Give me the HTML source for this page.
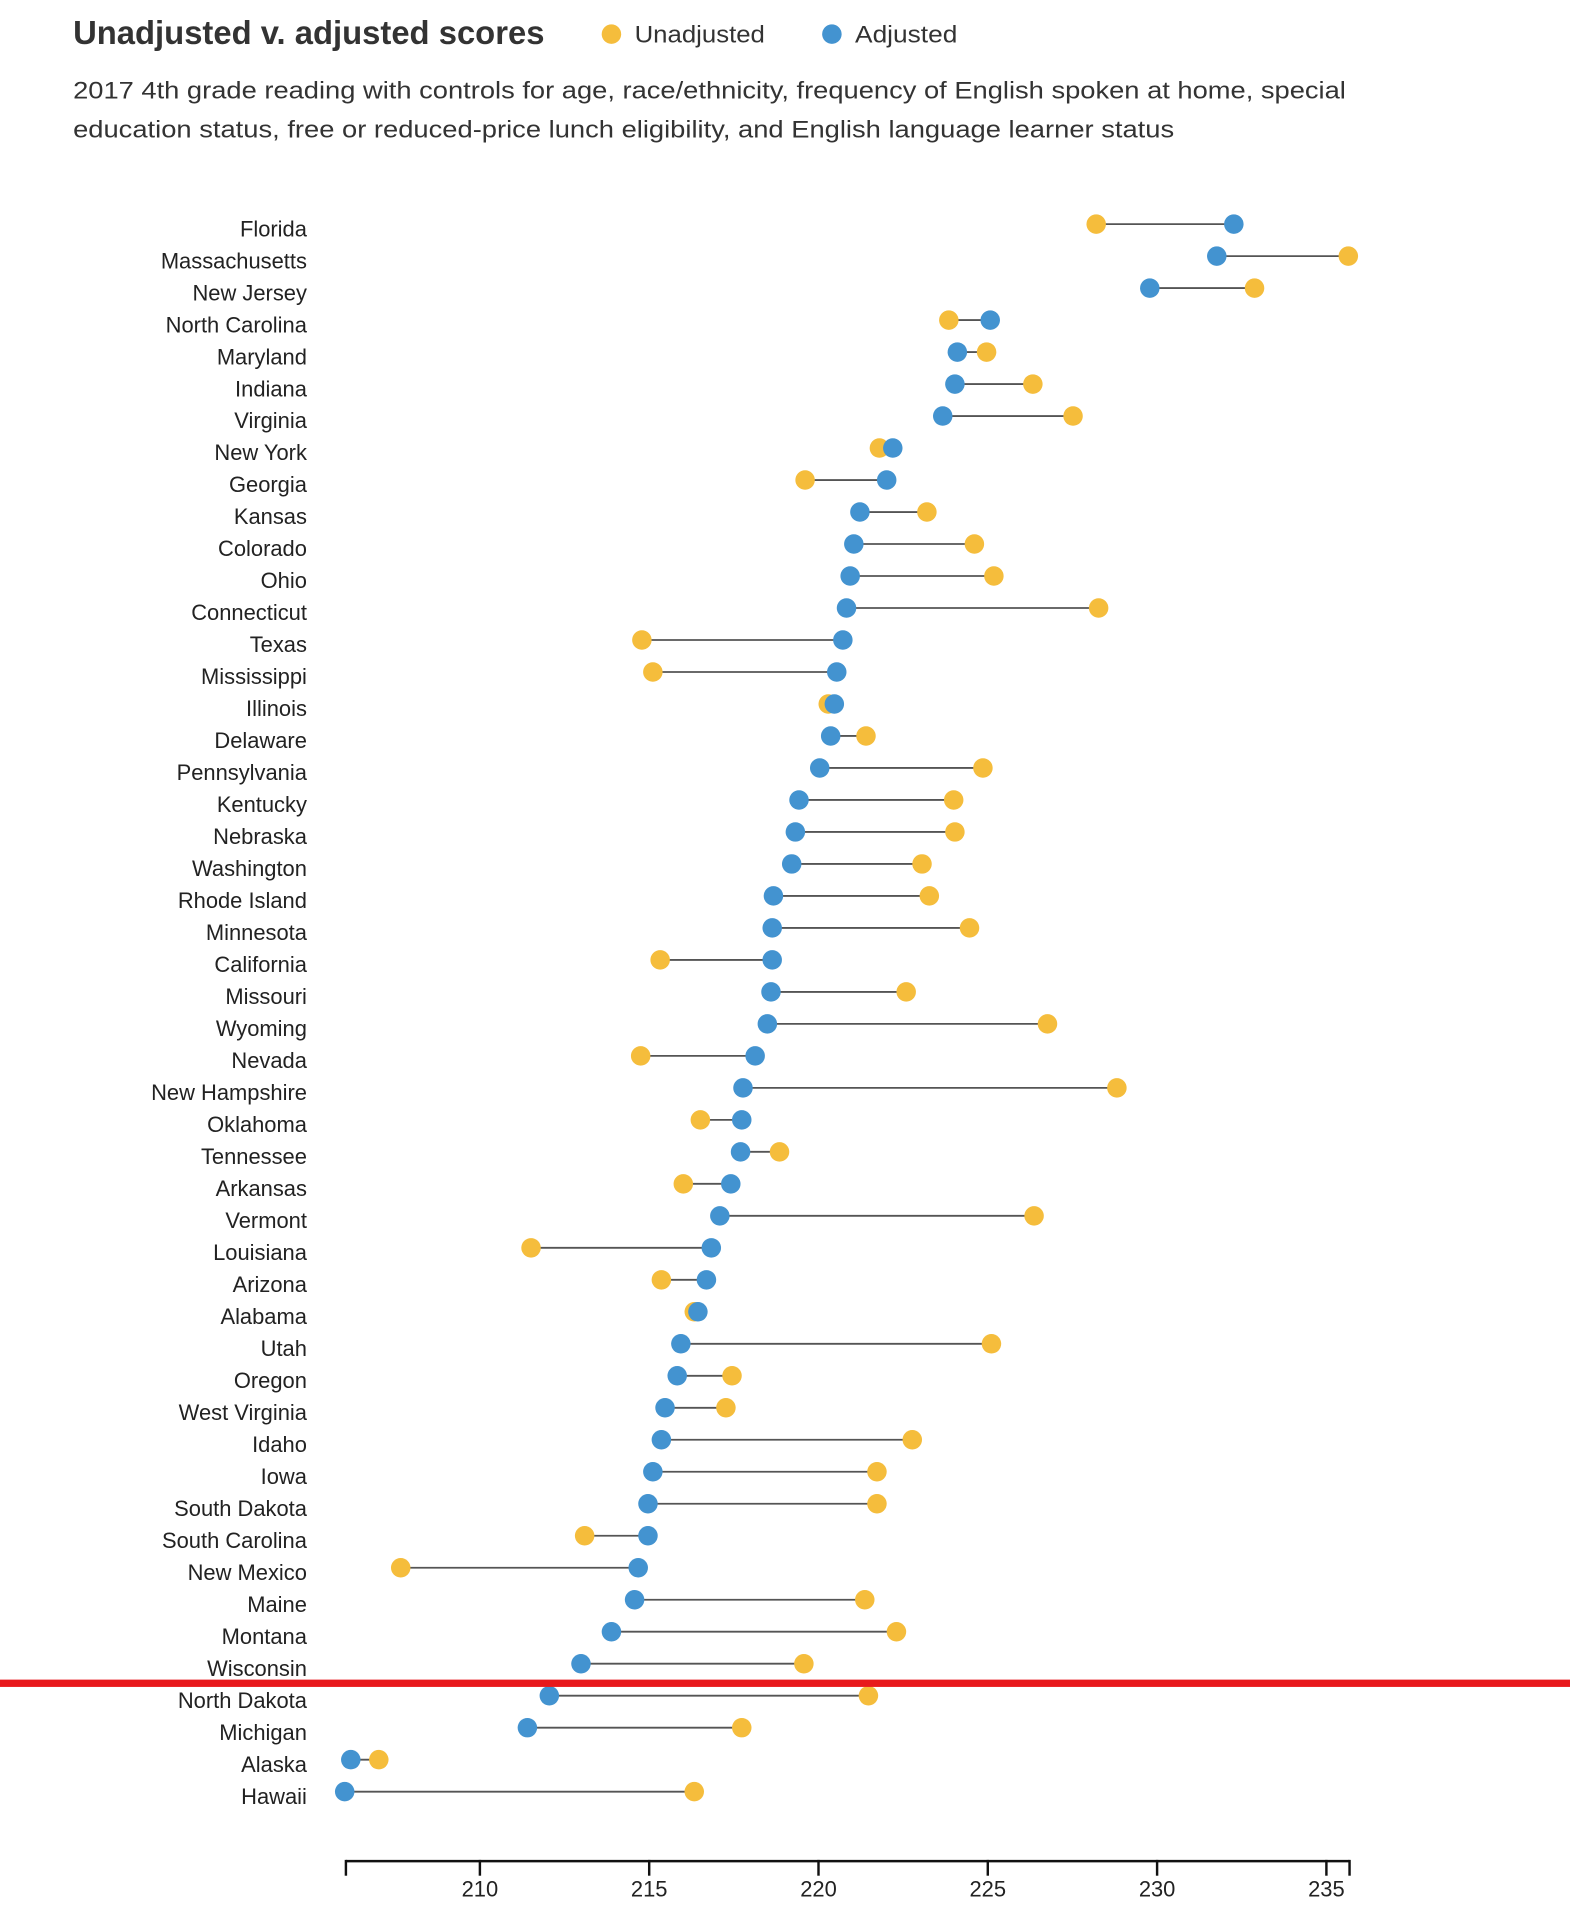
<!DOCTYPE html>
<html><head><meta charset="utf-8"><style>html,body{margin:0;padding:0;background:#fff}svg{display:block}</style></head>
<body>
<svg width="1570" height="1910" viewBox="0 0 1289 1568.15" xmlns="http://www.w3.org/2000/svg" font-family="Liberation Sans, sans-serif">
<text x="60" y="36" font-size="27" font-weight="bold" fill="#333" textLength="387" lengthAdjust="spacingAndGlyphs">Unadjusted v. adjusted scores</text>
<circle cx="502" cy="28" r="8" fill="#f5bd3c"/><text x="521" y="35" font-size="20" fill="#333" textLength="107" lengthAdjust="spacingAndGlyphs">Unadjusted</text>
<circle cx="683" cy="28" r="8" fill="#4393d0"/><text x="702" y="35" font-size="20" fill="#333" textLength="84" lengthAdjust="spacingAndGlyphs">Adjusted</text>
<text x="60" y="81" font-size="20" fill="#333" textLength="1045" lengthAdjust="spacingAndGlyphs">2017 4th grade reading with controls for age, race/ethnicity, frequency of English spoken at home, special</text>
<text x="60" y="113" font-size="20" fill="#333" textLength="904" lengthAdjust="spacingAndGlyphs">education status, free or reduced-price lunch eligibility, and English language learner status</text>
<defs><style>.l{font-size:18px;fill:#222;text-anchor:end}.s{stroke:#555;stroke-width:1.5}.y{fill:#f5bd3c}.b{fill:#4393d0}</style></defs>
<g transform="translate(0,184)"><text class="l" x="252" y="10">Florida</text><line class="s" x1="900" x2="1013"/><circle class="y" cx="900" r="8"/><circle class="b" cx="1013" r="8"/></g>
<g transform="translate(0,210.27)"><text class="l" x="252" y="10">Massachusetts</text><line class="s" x1="1107" x2="999"/><circle class="y" cx="1107" r="8"/><circle class="b" cx="999" r="8"/></g>
<g transform="translate(0,236.53)"><text class="l" x="252" y="10">New Jersey</text><line class="s" x1="1030" x2="944"/><circle class="y" cx="1030" r="8"/><circle class="b" cx="944" r="8"/></g>
<g transform="translate(0,262.8)"><text class="l" x="252" y="10">North Carolina</text><line class="s" x1="779" x2="813"/><circle class="y" cx="779" r="8"/><circle class="b" cx="813" r="8"/></g>
<g transform="translate(0,289.06)"><text class="l" x="252" y="10">Maryland</text><line class="s" x1="810" x2="786"/><circle class="y" cx="810" r="8"/><circle class="b" cx="786" r="8"/></g>
<g transform="translate(0,315.33)"><text class="l" x="252" y="10">Indiana</text><line class="s" x1="848" x2="784"/><circle class="y" cx="848" r="8"/><circle class="b" cx="784" r="8"/></g>
<g transform="translate(0,341.59)"><text class="l" x="252" y="10">Virginia</text><line class="s" x1="881" x2="774"/><circle class="y" cx="881" r="8"/><circle class="b" cx="774" r="8"/></g>
<g transform="translate(0,367.86)"><text class="l" x="252" y="10">New York</text><line class="s" x1="722" x2="733"/><circle class="y" cx="722" r="8"/><circle class="b" cx="733" r="8"/></g>
<g transform="translate(0,394.12)"><text class="l" x="252" y="10">Georgia</text><line class="s" x1="661" x2="728"/><circle class="y" cx="661" r="8"/><circle class="b" cx="728" r="8"/></g>
<g transform="translate(0,420.39)"><text class="l" x="252" y="10">Kansas</text><line class="s" x1="761" x2="706"/><circle class="y" cx="761" r="8"/><circle class="b" cx="706" r="8"/></g>
<g transform="translate(0,446.65)"><text class="l" x="252" y="10">Colorado</text><line class="s" x1="800" x2="701"/><circle class="y" cx="800" r="8"/><circle class="b" cx="701" r="8"/></g>
<g transform="translate(0,472.92)"><text class="l" x="252" y="10">Ohio</text><line class="s" x1="816" x2="698"/><circle class="y" cx="816" r="8"/><circle class="b" cx="698" r="8"/></g>
<g transform="translate(0,499.18)"><text class="l" x="252" y="10">Connecticut</text><line class="s" x1="902" x2="695"/><circle class="y" cx="902" r="8"/><circle class="b" cx="695" r="8"/></g>
<g transform="translate(0,525.45)"><text class="l" x="252" y="10">Texas</text><line class="s" x1="527" x2="692"/><circle class="y" cx="527" r="8"/><circle class="b" cx="692" r="8"/></g>
<g transform="translate(0,551.71)"><text class="l" x="252" y="10">Mississippi</text><line class="s" x1="536" x2="687"/><circle class="y" cx="536" r="8"/><circle class="b" cx="687" r="8"/></g>
<g transform="translate(0,577.98)"><text class="l" x="252" y="10">Illinois</text><line class="s" x1="680" x2="685"/><circle class="y" cx="680" r="8"/><circle class="b" cx="685" r="8"/></g>
<g transform="translate(0,604.24)"><text class="l" x="252" y="10">Delaware</text><line class="s" x1="711" x2="682"/><circle class="y" cx="711" r="8"/><circle class="b" cx="682" r="8"/></g>
<g transform="translate(0,630.51)"><text class="l" x="252" y="10">Pennsylvania</text><line class="s" x1="807" x2="673"/><circle class="y" cx="807" r="8"/><circle class="b" cx="673" r="8"/></g>
<g transform="translate(0,656.78)"><text class="l" x="252" y="10">Kentucky</text><line class="s" x1="783" x2="656"/><circle class="y" cx="783" r="8"/><circle class="b" cx="656" r="8"/></g>
<g transform="translate(0,683.04)"><text class="l" x="252" y="10">Nebraska</text><line class="s" x1="784" x2="653"/><circle class="y" cx="784" r="8"/><circle class="b" cx="653" r="8"/></g>
<g transform="translate(0,709.31)"><text class="l" x="252" y="10">Washington</text><line class="s" x1="757" x2="650"/><circle class="y" cx="757" r="8"/><circle class="b" cx="650" r="8"/></g>
<g transform="translate(0,735.57)"><text class="l" x="252" y="10">Rhode Island</text><line class="s" x1="763" x2="635"/><circle class="y" cx="763" r="8"/><circle class="b" cx="635" r="8"/></g>
<g transform="translate(0,761.84)"><text class="l" x="252" y="10">Minnesota</text><line class="s" x1="796" x2="634"/><circle class="y" cx="796" r="8"/><circle class="b" cx="634" r="8"/></g>
<g transform="translate(0,788.1)"><text class="l" x="252" y="10">California</text><line class="s" x1="542" x2="634"/><circle class="y" cx="542" r="8"/><circle class="b" cx="634" r="8"/></g>
<g transform="translate(0,814.37)"><text class="l" x="252" y="10">Missouri</text><line class="s" x1="744" x2="633"/><circle class="y" cx="744" r="8"/><circle class="b" cx="633" r="8"/></g>
<g transform="translate(0,840.63)"><text class="l" x="252" y="10">Wyoming</text><line class="s" x1="860" x2="630"/><circle class="y" cx="860" r="8"/><circle class="b" cx="630" r="8"/></g>
<g transform="translate(0,866.9)"><text class="l" x="252" y="10">Nevada</text><line class="s" x1="526" x2="620"/><circle class="y" cx="526" r="8"/><circle class="b" cx="620" r="8"/></g>
<g transform="translate(0,893.16)"><text class="l" x="252" y="10">New Hampshire</text><line class="s" x1="917" x2="610"/><circle class="y" cx="917" r="8"/><circle class="b" cx="610" r="8"/></g>
<g transform="translate(0,919.43)"><text class="l" x="252" y="10">Oklahoma</text><line class="s" x1="575" x2="609"/><circle class="y" cx="575" r="8"/><circle class="b" cx="609" r="8"/></g>
<g transform="translate(0,945.69)"><text class="l" x="252" y="10">Tennessee</text><line class="s" x1="640" x2="608"/><circle class="y" cx="640" r="8"/><circle class="b" cx="608" r="8"/></g>
<g transform="translate(0,971.96)"><text class="l" x="252" y="10">Arkansas</text><line class="s" x1="561" x2="600"/><circle class="y" cx="561" r="8"/><circle class="b" cx="600" r="8"/></g>
<g transform="translate(0,998.22)"><text class="l" x="252" y="10">Vermont</text><line class="s" x1="849" x2="591"/><circle class="y" cx="849" r="8"/><circle class="b" cx="591" r="8"/></g>
<g transform="translate(0,1024.49)"><text class="l" x="252" y="10">Louisiana</text><line class="s" x1="436" x2="584"/><circle class="y" cx="436" r="8"/><circle class="b" cx="584" r="8"/></g>
<g transform="translate(0,1050.76)"><text class="l" x="252" y="10">Arizona</text><line class="s" x1="543" x2="580"/><circle class="y" cx="543" r="8"/><circle class="b" cx="580" r="8"/></g>
<g transform="translate(0,1077.02)"><text class="l" x="252" y="10">Alabama</text><line class="s" x1="570" x2="573"/><circle class="y" cx="570" r="8"/><circle class="b" cx="573" r="8"/></g>
<g transform="translate(0,1103.29)"><text class="l" x="252" y="10">Utah</text><line class="s" x1="814" x2="559"/><circle class="y" cx="814" r="8"/><circle class="b" cx="559" r="8"/></g>
<g transform="translate(0,1129.55)"><text class="l" x="252" y="10">Oregon</text><line class="s" x1="601" x2="556"/><circle class="y" cx="601" r="8"/><circle class="b" cx="556" r="8"/></g>
<g transform="translate(0,1155.82)"><text class="l" x="252" y="10">West Virginia</text><line class="s" x1="596" x2="546"/><circle class="y" cx="596" r="8"/><circle class="b" cx="546" r="8"/></g>
<g transform="translate(0,1182.08)"><text class="l" x="252" y="10">Idaho</text><line class="s" x1="749" x2="543"/><circle class="y" cx="749" r="8"/><circle class="b" cx="543" r="8"/></g>
<g transform="translate(0,1208.35)"><text class="l" x="252" y="10">Iowa</text><line class="s" x1="720" x2="536"/><circle class="y" cx="720" r="8"/><circle class="b" cx="536" r="8"/></g>
<g transform="translate(0,1234.61)"><text class="l" x="252" y="10">South Dakota</text><line class="s" x1="720" x2="532"/><circle class="y" cx="720" r="8"/><circle class="b" cx="532" r="8"/></g>
<g transform="translate(0,1260.88)"><text class="l" x="252" y="10">South Carolina</text><line class="s" x1="480" x2="532"/><circle class="y" cx="480" r="8"/><circle class="b" cx="532" r="8"/></g>
<g transform="translate(0,1287.14)"><text class="l" x="252" y="10">New Mexico</text><line class="s" x1="329" x2="524"/><circle class="y" cx="329" r="8"/><circle class="b" cx="524" r="8"/></g>
<g transform="translate(0,1313.41)"><text class="l" x="252" y="10">Maine</text><line class="s" x1="710" x2="521"/><circle class="y" cx="710" r="8"/><circle class="b" cx="521" r="8"/></g>
<g transform="translate(0,1339.67)"><text class="l" x="252" y="10">Montana</text><line class="s" x1="736" x2="502"/><circle class="y" cx="736" r="8"/><circle class="b" cx="502" r="8"/></g>
<g transform="translate(0,1365.94)"><text class="l" x="252" y="10">Wisconsin</text><line class="s" x1="660" x2="477"/><circle class="y" cx="660" r="8"/><circle class="b" cx="477" r="8"/></g>
<g transform="translate(0,1392.2)"><text class="l" x="252" y="10">North Dakota</text><line class="s" x1="713" x2="451"/><circle class="y" cx="713" r="8"/><circle class="b" cx="451" r="8"/></g>
<g transform="translate(0,1418.47)"><text class="l" x="252" y="10">Michigan</text><line class="s" x1="609" x2="433"/><circle class="y" cx="609" r="8"/><circle class="b" cx="433" r="8"/></g>
<g transform="translate(0,1444.73)"><text class="l" x="252" y="10">Alaska</text><line class="s" x1="311" x2="288"/><circle class="y" cx="311" r="8"/><circle class="b" cx="288" r="8"/></g>
<g transform="translate(0,1471)"><text class="l" x="252" y="10">Hawaii</text><line class="s" x1="570" x2="283"/><circle class="y" cx="570" r="8"/><circle class="b" cx="283" r="8"/></g>
<rect x="0" y="1379" width="1289" height="6" fill="#e8191c"/>
<g stroke="#111" stroke-width="2" fill="none">
<line x1="284" y1="1528" x2="1108" y2="1528"/>
<line x1="284" y1="1527" x2="284" y2="1540"/><line x1="1108" y1="1527" x2="1108" y2="1540"/>
<line x1="394" y1="1527" x2="394" y2="1540"/><line x1="533" y1="1527" x2="533" y2="1540"/><line x1="672" y1="1527" x2="672" y2="1540"/><line x1="811" y1="1527" x2="811" y2="1540"/><line x1="950" y1="1527" x2="950" y2="1540"/><line x1="1089" y1="1527" x2="1089" y2="1540"/>
</g>
<g font-size="18" fill="#222" text-anchor="middle">
<text x="394" y="1557">210</text><text x="533" y="1557">215</text><text x="672" y="1557">220</text><text x="811" y="1557">225</text><text x="950" y="1557">230</text><text x="1089" y="1557">235</text>
</g>
</svg>
</body></html>
